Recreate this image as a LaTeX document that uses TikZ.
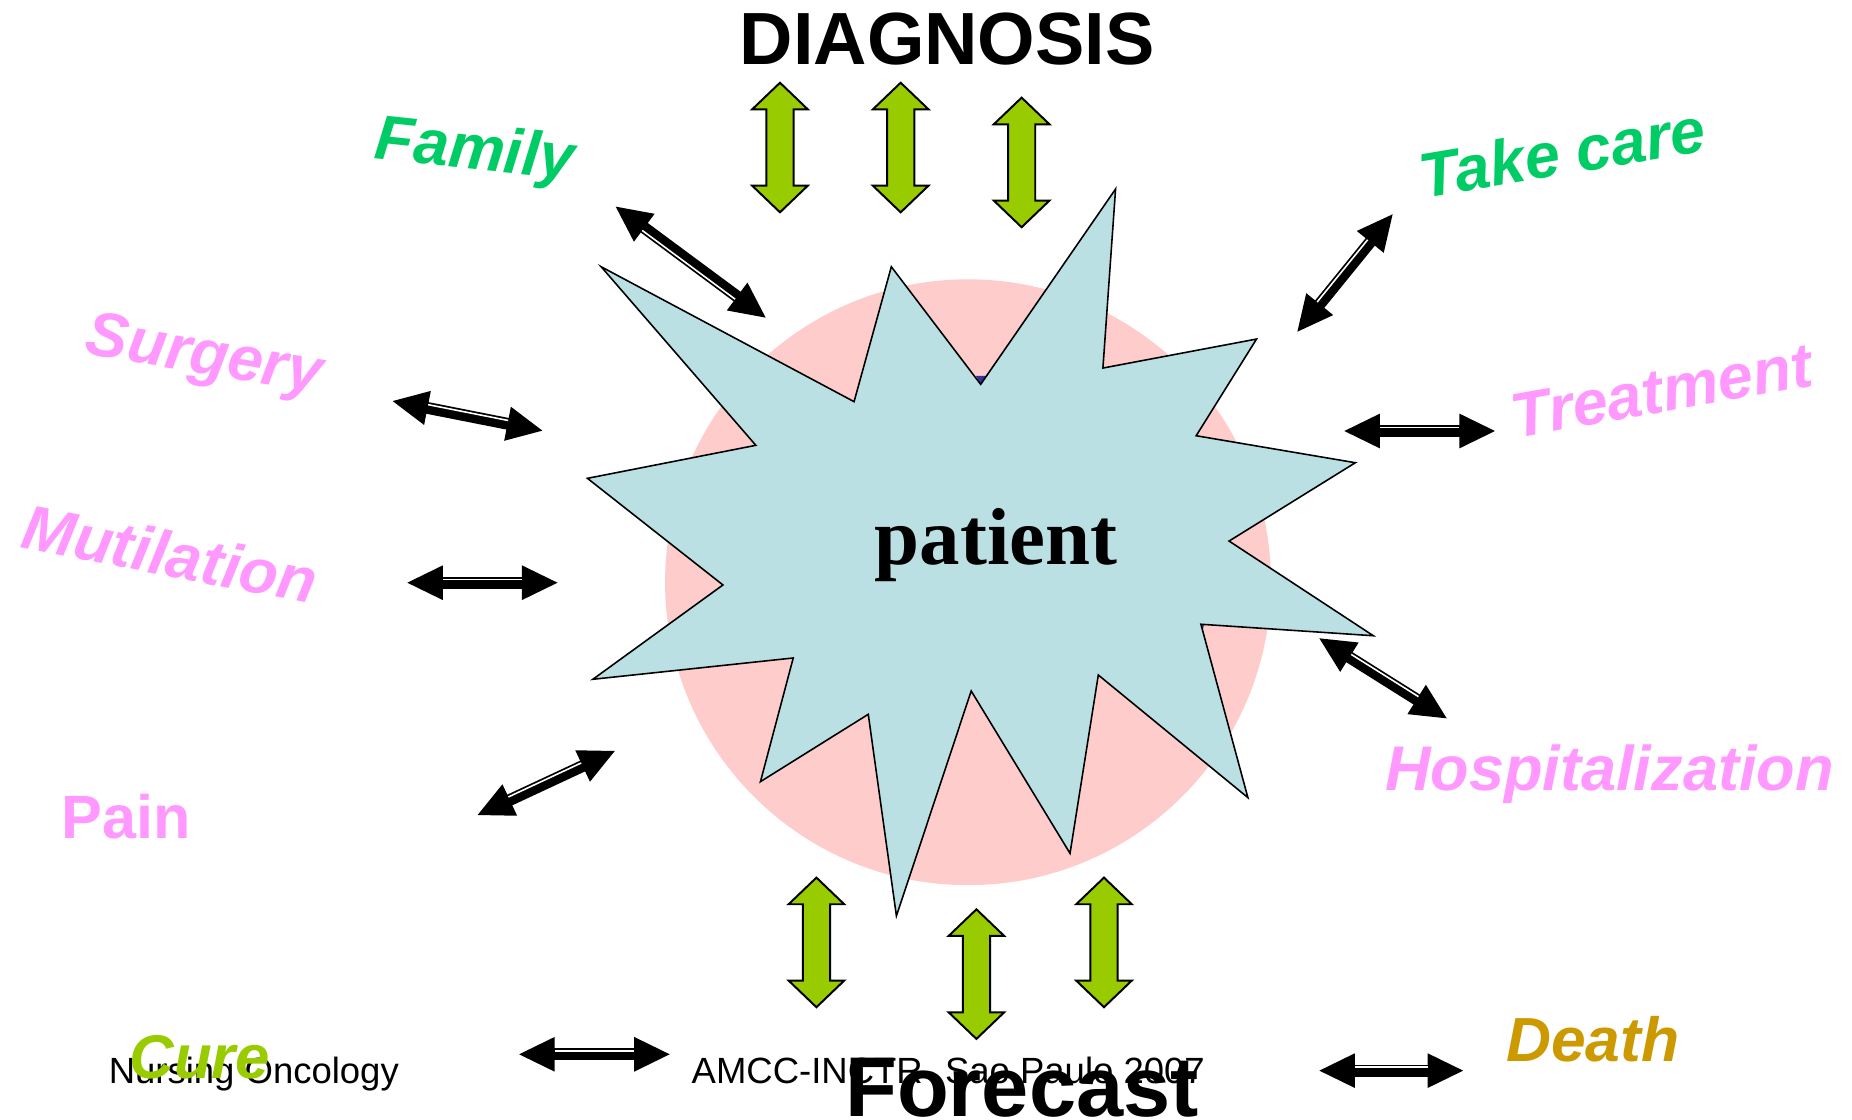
\documentclass[tikz,border=0pt]{standalone}
\usepackage{fontspec}
\setmainfont{Liberation Sans}
\newfontfamily\patfont{Liberation Serif}
\usetikzlibrary{calc}
\definecolor{pinklbl}{HTML}{FF99FF}
\definecolor{greenlbl}{HTML}{00CC66}
\definecolor{limegreen}{HTML}{99CC00}
\definecolor{deathcol}{HTML}{CC9900}
\definecolor{circcol}{HTML}{FFCCCC}
\definecolor{starcol}{HTML}{BAE0E3}
\definecolor{notchblue}{HTML}{333399}
\tikzset{
  lbl/.style={inner sep=0pt, anchor=base, font=\bfseries\itshape\fontsize{32}{38}\selectfont},
  pinklabel/.style={lbl, text=pinklbl},
  greenlabel/.style={lbl, text=greenlbl},
  footer/.style={inner sep=0pt, anchor=base, font=\fontsize{18.5}{22}\selectfont},
  bigtitle/.style={inner sep=0pt, anchor=base, font=\bfseries\fontsize{37.5}{44}\selectfont},
  garrowstyle/.style={fill=limegreen, draw=black, line width=1pt, line join=miter},
  garrow/.pic={
    \draw[garrowstyle] (0,0) -- (23.5,22.5) -- (11.5,22.5) -- (11.5,87) -- (23.5,87)
      -- (0,109.5) -- (-23.5,87) -- (-11.5,87) -- (-11.5,22.5) -- (-23.5,22.5) -- cycle;
  }
}
\newcommand\dblarrow[4]{%
  \fill[black] (#1) -- ($(#1)!18pt!(#2)!8.8pt!90:(#2)$) -- ($(#1)!18pt!(#2)!8.8pt!-90:(#2)$) -- cycle;
  \fill[black] (#2) -- ($(#2)!18pt!(#1)!8.8pt!90:(#1)$) -- ($(#2)!18pt!(#1)!8.8pt!-90:(#1)$) -- cycle;
  \draw[black, line width=6pt] ($(#1)!16pt!(#2)$) -- ($(#2)!16pt!(#1)$);
  \draw[white, line width=0.8pt] ($(#1)!18pt!(#2)!1.7pt!#3:(#2)$) -- ($(#2)!18pt!(#1)!1.7pt!#4:(#1)$);
}
\begin{document}
\begin{tikzpicture}[x=0.6pt,y=-0.6pt]
\useasboundingbox (0,0) rectangle (1565,945.6);

% pink disc
\fill[circcol] (818,492) circle[radius=153.6pt];
% tiny notch artefacts
\fill[notchblue] (824.7,317.7) -- (833.2,317.7) -- (828.7,324.8) -- cycle;
\fill[notchblue] (1013.5,527.4) -- (1017.5,527.6) -- (1016,534) -- cycle;
% star
\filldraw[fill=starcol, draw=black, line width=0.8pt, line join=miter]
  (508,225.4) -- (721.7,339.4) -- (753.2,225.4) -- (828.7,324.8) -- (942.7,159.7)
  -- (932,311) -- (1061.8,286.5) -- (1010.8,368.2) -- (1145.3,391) -- (1038.6,457.2)
  -- (1160.5,537.2) -- (1014.8,527.5) -- (1054.5,674) -- (928.1,570.4) -- (904.2,721.1)
  -- (820.7,583.9) -- (757.5,774) -- (733.7,603.6) -- (642.6,660.5) -- (670.3,556)
  -- (501,574) -- (610.9,494.3) -- (496.4,404.2) -- (638.7,376.3) -- cycle;

\node[inner sep=0pt, anchor=base, font=\patfont\bfseries\fontsize{41}{48}\selectfont] (patient) at (841.7,477.4) {patient};

% green block arrows
\pic (gt1) at (659.1,69.9) {garrow};
\pic (gt2) at (761.1,69.9) {garrow};
\pic (gt3) at (863.3,82.5) {garrow};
\pic (gb1) at (689.9,741.6) {garrow};
\pic (gb2) at (825.1,768.4) {garrow};
\pic (gb3) at (932.9,741.6) {garrow};

% black double arrows: end coordinates
\coordinate (famA) at (520.3,174.6);  \coordinate (famB) at (647,268.4);
\coordinate (surA) at (331.8,338.9);  \coordinate (surB) at (458.3,363.9);
\coordinate (takA) at (1096.3,280.3); \coordinate (takB) at (1176.8,181.1);
\coordinate (treA) at (1136,364.2);   \coordinate (treB) at (1263.3,364.2);
\coordinate (mutA) at (344.2,492.4);  \coordinate (mutB) at (471.1,492.4);
\coordinate (hosA) at (1114.9,539.4); \coordinate (hosB) at (1222.5,607);
\coordinate (paiA) at (403.6,688.7);  \coordinate (paiB) at (519.5,634.6);
\coordinate (curA) at (438.7,890.9);  \coordinate (curB) at (565.9,890.9);
\coordinate (deaA) at (1114.9,904.7); \coordinate (deaB) at (1236.4,904.7);

\dblarrow{famA}{famB}{-90}{90}
\dblarrow{surA}{surB}{90}{-90}
\dblarrow{takA}{takB}{90}{-90}
\dblarrow{treA}{treB}{90}{-90}
\dblarrow{mutA}{mutB}{90}{-90}
\dblarrow{hosA}{hosB}{90}{-90}
\dblarrow{paiA}{paiB}{90}{-90}
\dblarrow{curA}{curB}{90}{-90}
\dblarrow{deaA}{deaB}{90}{-90}

% labels
\node[bigtitle] (diag) at (800.4,54.9) {DIAGNOSIS};
\node[greenlabel, rotate=-6] (family) at (400,142.9) {Family};
\node[greenlabel, rotate=9.5] (takecare) at (1323,147.5) {Take care};
\node[pinklabel, rotate=-9.5] (surgery) at (170,315.6) {Surgery};
\node[pinklabel, rotate=10] (treatment) at (1407,348) {Treatment};
\node[pinklabel, rotate=-11] (mutilation) at (140,486.6) {Mutilation};
\node[pinklabel] (hosp) at (1360,667.6) {Hospitalization};
\node[inner sep=0pt, anchor=base, text=pinklbl, font=\bfseries\fontsize{31}{37}\selectfont] (pain) at (106.5,708.4) {Pain};

% footer
\node[footer] (nursing) at (214.5,915.5) {Nursing Oncology};
\node[footer] (amcc) at (801.3,915.5) {AMCC-INCTR- Sao Paulo 2007};

\node[lbl, text=limegreen, font=\bfseries\itshape\fontsize{31.3}{37}\selectfont] (cure) at (168.8,911.2) {Cure};
\node[lbl, text=deathcol, font=\bfseries\itshape\fontsize{31.6}{37}\selectfont] (death) at (1346,897.1) {Death};
\node[inner sep=0pt, anchor=base, font=\bfseries\fontsize{43}{50}\selectfont] (forecast) at (863.6,943.5) {Forecast};
\end{tikzpicture}
\end{document}
